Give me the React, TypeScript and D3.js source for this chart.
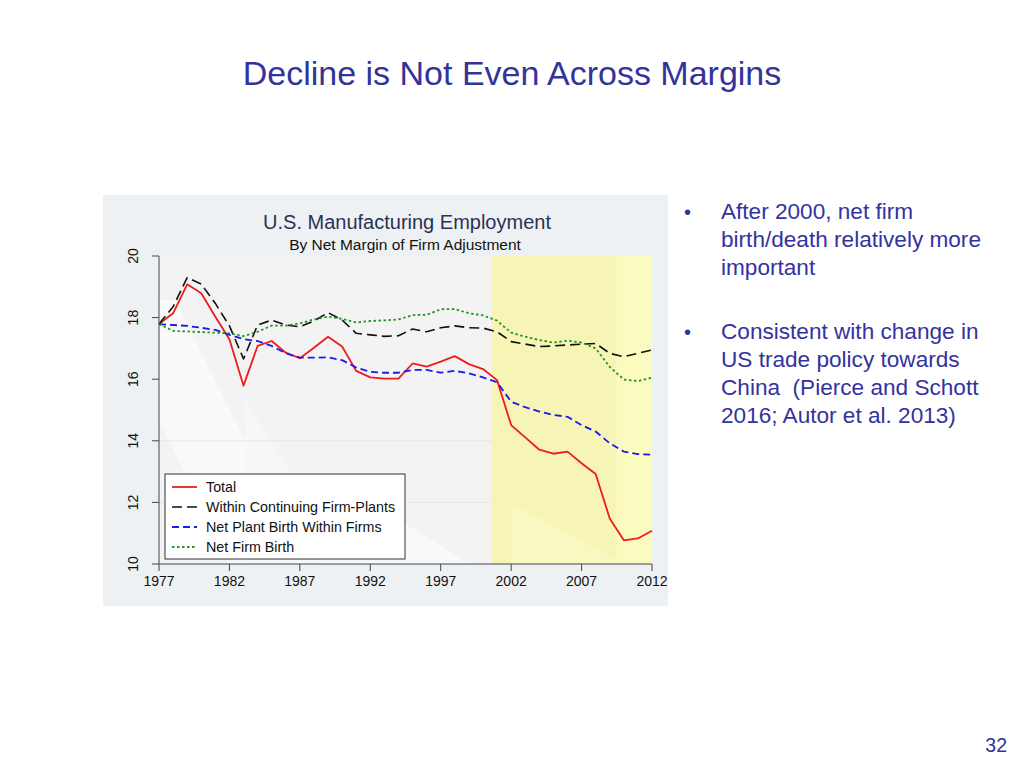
import React from "react";
import * as d3 from "d3";

const years = d3.range(1977, 2013);
const total = [17.79, 18.14, 19.08, 18.79, 18.03, 17.3, 15.79, 17.08, 17.24, 16.86, 16.68, 17.02, 17.38, 17.06, 16.27, 16.06, 16.02, 16.02, 16.51, 16.41, 16.57, 16.75, 16.49, 16.33, 15.97, 14.51, 14.11, 13.71, 13.58, 13.65, 13.27, 12.92, 11.48, 10.77, 10.83, 11.08];
const within = [17.79, 18.35, 19.3, 19.09, 18.46, 17.73, 16.66, 17.76, 17.92, 17.76, 17.7, 17.89, 18.16, 17.92, 17.49, 17.44, 17.39, 17.41, 17.63, 17.54, 17.67, 17.73, 17.67, 17.66, 17.54, 17.22, 17.14, 17.06, 17.08, 17.11, 17.14, 17.16, 16.84, 16.73, 16.84, 16.95];
const plantBirth = [17.79, 17.76, 17.73, 17.67, 17.6, 17.44, 17.3, 17.24, 17.08, 16.84, 16.7, 16.7, 16.71, 16.62, 16.38, 16.24, 16.21, 16.21, 16.3, 16.3, 16.21, 16.27, 16.19, 16.06, 15.9, 15.27, 15.09, 14.95, 14.84, 14.78, 14.51, 14.3, 13.92, 13.65, 13.57, 13.55];
const firmBirth = [17.79, 17.57, 17.55, 17.53, 17.51, 17.49, 17.4, 17.54, 17.74, 17.74, 17.81, 17.94, 18.03, 17.96, 17.84, 17.89, 17.91, 17.94, 18.08, 18.09, 18.27, 18.28, 18.14, 18.07, 17.9, 17.51, 17.38, 17.27, 17.19, 17.25, 17.19, 17.0, 16.4, 15.99, 15.94, 16.05];
const seriesNames = ["Total", "Within Continuing Firm-Plants", "Net Plant Birth Within Firms", "Net Firm Birth"];
const xTicks = [1977, 1982, 1987, 1992, 1997, 2002, 2007, 2012];
const yTicks = [10, 12, 14, 16, 18, 20];
const shadeSpans = [[2000.6, 2009.5], [2009.5, 2012]];
const bullets = [
  ["After 2000, net firm", "birth/death relatively more", "important"],
  ["Consistent with change in", "US trade policy towards", "China  (Pierce and Schott", "2016; Autor et al. 2013)"],
];

const styles = [
  { color: "#ee1c1c", dash: null, w: 1.8 },
  { color: "#111111", dash: "10,5", w: 1.6 },
  { color: "#1a1aee", dash: "7,4", w: 1.8 },
  { color: "#22961e", dash: "2.5,2.5", w: 1.8 },
];

export default function App() {
  const x = d3.scaleLinear().domain([1977, 2012]).range([159, 652]);
  const y = d3.scaleLinear().domain([10, 20]).range([564, 256]);
  const line = d3.line<number>().x((_, i) => x(years[i])).y((d) => y(d));
  const data = [total, within, plantBirth, firmBirth];
  const font = "'Liberation Sans', Arial, sans-serif";
  const shadeColors = ["#f7f5b5", "#fcfbbf"];
  return (
    <svg width={1024} height={768} style={{ position: "absolute", left: 0, top: 0 }} fontFamily={font}>
      <rect width={1024} height={768} fill="#ffffff" />
      <text x={512} y={85} textAnchor="middle" fontSize={34} fill="#33339a">Decline is Not Even Across Margins</text>

      {/* chart panel */}
      <rect x={103} y={195} width={565} height={411} fill="#eef1f4" />
      <rect x={159} y={256} width={493} height={308} fill="#f3f3f4" />
      <polygon points="159,300 175,300 245,440 245,564 230,564 159,420" fill="#fafafa" opacity={0.8} />
      <polygon points="245,400 320,520 320,564 245,564" fill="#fafafa" opacity={0.6} />
      <polygon points="320,470 470,564 320,564" fill="#fafafa" opacity={0.8} />
      {[12, 14].map((t) => (
        <line key={t} x1={159} x2={652} y1={y(t)} y2={y(t)} stroke="#e6e6e6" />
      ))}
      {shadeSpans.map((s, i) => (
        <rect key={i} x={x(s[0])} y={y(20)} width={x(s[1]) - x(s[0])} height={y(10) - y(20)} fill={shadeColors[i]} />
      ))}
      <polygon points={`${x(2002)},503 ${x(2009.5)},560 ${x(2009.5)},564 ${x(2002)},564`} fill="#fbfac6" opacity={0.7} />

      <text x={407} y={229} textAnchor="middle" fontSize={20} fill="#2a3256">U.S. Manufacturing Employment</text>
      <text x={405} y={250} textAnchor="middle" fontSize={15.5} fill="#111">By Net Margin of Firm Adjustment</text>

      {data.map((d, i) => (
        <path key={i} d={line(d) || ""} fill="none" stroke={styles[i].color} strokeWidth={styles[i].w}
          strokeDasharray={styles[i].dash || undefined} strokeLinejoin="round" />
      ))}

      {/* axes */}
      <line x1={159} x2={159} y1={y(20)} y2={y(10)} stroke="#444" strokeWidth={1} />
      <line x1={159} x2={652} y1={y(10)} y2={y(10)} stroke="#444" strokeWidth={1} />
      {yTicks.map((t) => (
        <g key={t}>
          <line x1={152} x2={159} y1={y(t)} y2={y(t)} stroke="#444" />
          <text transform={`translate(138,${y(t)}) rotate(-90)`} textAnchor="middle" fontSize={14} fill="#111">{t}</text>
        </g>
      ))}
      {xTicks.map((t) => (
        <g key={t}>
          <line x1={x(t)} x2={x(t)} y1={y(10)} y2={y(10) + 7} stroke="#444" />
          <text x={x(t)} y={586} textAnchor="middle" fontSize={14} fill="#111">{t}</text>
        </g>
      ))}

      {/* legend */}
      <rect x={165} y={474} width={240} height={85} fill="#ffffff" stroke="#333" strokeWidth={1} />
      {seriesNames.map((n, i) => (
        <g key={n}>
          <line x1={172} x2={197} y1={487 + i * 20} y2={487 + i * 20} stroke={styles[i].color} strokeWidth={styles[i].w}
            strokeDasharray={styles[i].dash || undefined} />
          <text x={206} y={492 + i * 20} fontSize={14.3} fill="#111">{n}</text>
        </g>
      ))}

      {/* bullets */}
      {bullets.map((b, bi) => (
        <g key={bi}>
          <text x={684} y={219 + bi * 120} fontSize={20} fill="#3333a0">•</text>
          {b.map((l, li) => (
            <text key={li} x={721} y={219 + bi * 120 + li * 28} fontSize={22.6} fill="#3333a0" style={{ whiteSpace: "pre" }}>{l}</text>
          ))}
        </g>
      ))}
      <text x={1007} y={752} textAnchor="end" fontSize={19.5} fill="#3333a0">32</text>
    </svg>
  );
}
